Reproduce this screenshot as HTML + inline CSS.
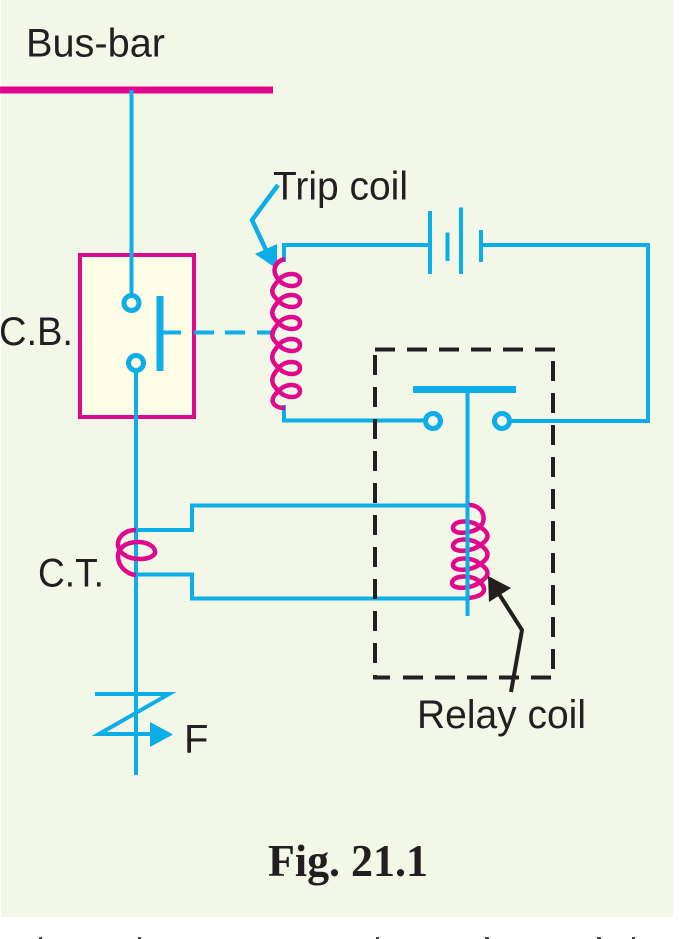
<!DOCTYPE html>
<html><head><meta charset="utf-8"><style>html,body{margin:0;padding:0;background:#fff}svg{display:block}</style></head>
<body>
<svg width="681" height="939" viewBox="0 0 681 939" xmlns="http://www.w3.org/2000/svg">
<rect width="681" height="939" fill="#fff"/>
<rect x="1" y="0" width="672" height="917" fill="#f3f7e7"/>
<g fill="#444"><rect x="39" y="937" width="3" height="2"/><rect x="138" y="937" width="3" height="2"/><rect x="376" y="937" width="3" height="2"/><rect x="485" y="937" width="4" height="2"/><rect x="597" y="937" width="4" height="2"/><rect x="632" y="937" width="3" height="2"/></g>
<line x1="0" y1="90" x2="273" y2="90" stroke="#e0088c" stroke-width="7"/>
<rect x="80" y="255" width="114" height="162" fill="#fffde6" stroke="#e0088c" stroke-width="4"/>
<g fill="none" stroke="#0caee8" stroke-width="4">
<path d="M131.5 90V295"/>
<circle cx="131.5" cy="303" r="7.500" stroke-width="5"/>
<circle cx="136" cy="363" r="7.500" stroke-width="5"/>
<path d="M136 371V775"/>
<path d="M160 296V371" stroke-width="7"/>
<path d="M160 332.5H181"/>
<path d="M194 332.5H214M225 332.5H245M257 332.5H275"/>
<path d="M278 185L252 220L267 252" stroke-width="4.500"/>
<path d="M284 262V245H430M481 245H648V421H510"/>
<path d="M284 405V420.5H425"/>
<path d="M430 211V274M461 207.500V274M447.500 232.500V261M481 230V262"/>
<circle cx="433" cy="421" r="7.500" stroke-width="5"/>
<circle cx="502" cy="421" r="7.500" stroke-width="5"/>
<path d="M413 389.500H516" stroke-width="7"/>
<path d="M467.500 389V616"/>
<path d="M136 530H192V505.500H468M136 574.500H192V598.500H468"/>
<path d="M95 694H169L99 734H152"/>
</g>
<polygon points="255,254 277,244 277,269" fill="#0caee8"/>
<polygon points="150,722 150,747 173,734.500" fill="#0caee8"/>
<g fill="none" stroke="#e0088c" stroke-width="4.500">
<path d="M285 259C276 261 270 270 279 280C285 288 300 288 300 280C300 272 284 272 279 280C270 289 270 294 279 301C285 309 300 309 300 301C300 293 284 293 279 301C270 310 270 316 279 323C285 331 300 331 300 323C300 315 284 315 279 323C270 332 270 338 279 345C285 353 300 353 300 345C300 337 284 337 279 345C270 354 270 361 279 368C285 376 300 376 300 368C300 360 284 360 279 368C270 377 270 384 279 391C285 399 300 399 300 391C300 383 284 383 279 391C268 399 272 408 285 408"/>
<path d="M469 505C482 505 488 518 480 527C472 534 453 535 453 528C453 520 472 519 480 527C490 533 490 539 480 545C472 552 453 553 453 546C453 538 472 537 480 545C490 551 490 558 480 564C472 571 453 572 453 565C453 557 472 556 480 564C490 570 490 576 480 582C472 589 452 590 452 583C452 575 472 574 480 582C488 590 484 596 469 598"/>
<path d="M136 530C124 530 117 538 118 546C120 555 130 559 140 559C150 559 156 555 155 551C154 546 147 542 138 542C126 542 118 548 118 556C118 566 126 574 136 575"/>
</g>
<line x1="467.500" y1="505" x2="467.500" y2="616" stroke="#0caee8" stroke-width="4"/>
<g fill="none" stroke="#231f20" stroke-width="4">
<path d="M375 349.500H555" stroke-dasharray="20 12"/>
<path d="M375 355V678" stroke-dasharray="20 12"/>
<path d="M553 361V670" stroke-dasharray="20 12"/>
<path d="M373 677.500H390"/>
<path d="M403 677.500H551" stroke-dasharray="20 12"/>
<path d="M511 692L522 630L499 594"/>
</g>
<polygon points="488,576 511,588 489,602" fill="#231f20"/>
<g font-family="'Liberation Sans',sans-serif" font-size="40" fill="#231f20">
<text x="26" y="56.500" textLength="139" lengthAdjust="spacingAndGlyphs">Bus-bar</text>
<text x="273" y="199.500" textLength="135" lengthAdjust="spacingAndGlyphs">Trip coil</text>
<text x="-1" y="345" textLength="74" lengthAdjust="spacingAndGlyphs">C.B.</text>
<text x="38" y="586.500" textLength="66" lengthAdjust="spacingAndGlyphs">C.T.</text>
<text x="184" y="752.500">F</text>
<text x="417" y="728" textLength="169" lengthAdjust="spacingAndGlyphs">Relay coil</text>
</g>
<text x="268" y="876" font-family="'Liberation Serif',serif" font-weight="bold" font-size="46" fill="#231f20" textLength="160" lengthAdjust="spacingAndGlyphs">Fig. 21.1</text>
</svg>
</body></html>
